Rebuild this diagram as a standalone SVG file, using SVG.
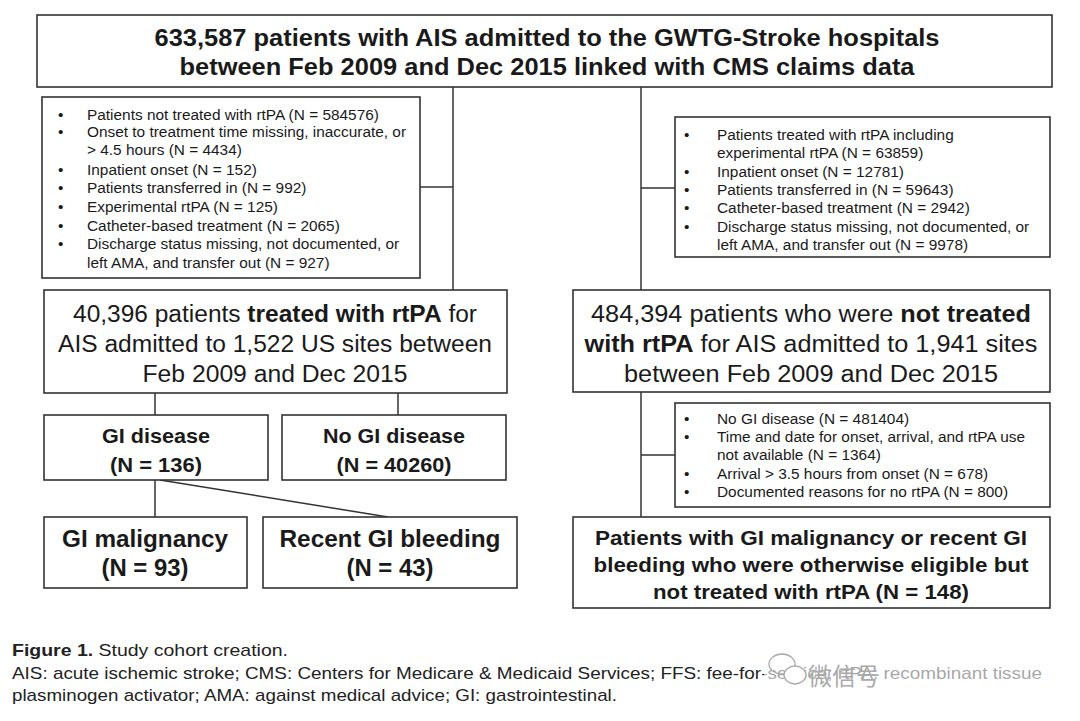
<svg xmlns="http://www.w3.org/2000/svg" width="1080" height="721" viewBox="0 0 1080 721">
<style>
.box{fill:#fff;stroke:#333;stroke-width:1.6}
.ln{fill:none;stroke:#333;stroke-width:1.5}
.t{font-family:"Liberation Sans",Arial,sans-serif;fill:#1a1a1a}
.b{font-weight:bold}
.title{font-family:"Liberation Sans Narrow","Liberation Sans",Arial,sans-serif;font-weight:bold;font-size:23px;fill:#1a1a1a}
.sm{font-size:15.4px}
.mid{font-size:23px}
.cap{font-family:"Liberation Sans Narrow","Liberation Sans",Arial,sans-serif;font-size:17px;fill:#222}
</style>
<rect width="1080" height="721" fill="#fff"/>
<g id="connectors">
<line class="ln" x1="453" y1="87" x2="453" y2="290"/>
<line class="ln" x1="420" y1="187" x2="453" y2="187"/>
<line class="ln" x1="641" y1="87" x2="641" y2="290"/>
<line class="ln" x1="641" y1="188" x2="675" y2="188"/>
<line class="ln" x1="155" y1="393" x2="155" y2="415"/>
<line class="ln" x1="398" y1="393" x2="398" y2="415"/>
<line class="ln" x1="155" y1="480" x2="155" y2="517"/>
<line class="ln" x1="160" y1="480" x2="388" y2="517"/>
<line class="ln" x1="641" y1="392" x2="641" y2="517"/>
<line class="ln" x1="641" y1="455" x2="675" y2="455"/>
</g>
<g id="n-top">
<rect class="box" x="37" y="15" width="1015" height="72"/>
<text class="title" x="547" y="46" text-anchor="middle" textLength="785" lengthAdjust="spacingAndGlyphs">633,587 patients with AIS admitted to the GWTG-Stroke hospitals</text>
<text class="title" x="547" y="75" text-anchor="middle" textLength="735" lengthAdjust="spacingAndGlyphs">between Feb 2009 and Dec 2015 linked with CMS claims data</text>
</g>
<g id="n-excl-left" class="t sm">
<rect class="box" x="42" y="97" width="378" height="181"/>
<text x="58" y="120">•</text><text x="87" y="120">Patients not treated with rtPA (N = 584576)</text>
<text x="58" y="137">•</text><text x="87" y="137">Onset to treatment time missing, inaccurate, or</text>
<text x="87" y="155">&gt; 4.5 hours (N = 4434)</text>
<text x="58" y="175">•</text><text x="87" y="175">Inpatient onset (N = 152)</text>
<text x="58" y="193">•</text><text x="87" y="193">Patients transferred in (N = 992)</text>
<text x="58" y="212">•</text><text x="87" y="212">Experimental rtPA (N = 125)</text>
<text x="58" y="231">•</text><text x="87" y="231">Catheter-based treatment (N = 2065)</text>
<text x="58" y="249">•</text><text x="87" y="249">Discharge status missing, not documented, or</text>
<text x="87" y="268">left AMA, and transfer out (N = 927)</text>
</g>
<g id="n-excl-right" class="t sm">
<rect class="box" x="675" y="117" width="375" height="140"/>
<text x="684" y="140">•</text><text x="717" y="140">Patients treated with rtPA including</text>
<text x="717" y="158">experimental rtPA (N = 63859)</text>
<text x="684" y="177">•</text><text x="717" y="177">Inpatient onset  (N = 12781)</text>
<text x="684" y="195">•</text><text x="717" y="195">Patients transferred in (N = 59643)</text>
<text x="684" y="213">•</text><text x="717" y="213">Catheter-based treatment (N = 2942)</text>
<text x="684" y="232">•</text><text x="717" y="232">Discharge status missing, not documented, or</text>
<text x="717" y="250">left AMA, and transfer out (N = 9978)</text>
</g>
<g id="n-treated" class="t mid">
<rect class="box" x="44" y="290" width="463" height="103"/>
<text x="275" y="322" text-anchor="middle" textLength="404" lengthAdjust="spacingAndGlyphs">40,396 patients <tspan class="b">treated with rtPA</tspan> for</text>
<text x="275" y="352" text-anchor="middle" textLength="434" lengthAdjust="spacingAndGlyphs">AIS admitted to 1,522 US sites between</text>
<text x="275" y="382" text-anchor="middle" textLength="265" lengthAdjust="spacingAndGlyphs">Feb 2009 and Dec 2015</text>
</g>
<g id="n-nottreated" class="t mid">
<rect class="box" x="573" y="290" width="477" height="102"/>
<text x="811" y="322" text-anchor="middle" textLength="440" lengthAdjust="spacingAndGlyphs">484,394 patients who were <tspan class="b">not treated</tspan></text>
<text x="811" y="352" text-anchor="middle" textLength="453" lengthAdjust="spacingAndGlyphs"><tspan class="b">with rtPA</tspan> for AIS admitted to 1,941 sites</text>
<text x="811" y="382" text-anchor="middle" textLength="374" lengthAdjust="spacingAndGlyphs">between Feb 2009 and Dec 2015</text>
</g>
<g id="n-gi" class="t b" font-size="21">
<rect class="box" x="44" y="415" width="224" height="65"/>
<text x="156" y="443" text-anchor="middle" textLength="108" lengthAdjust="spacingAndGlyphs">GI disease</text>
<text x="156" y="472" text-anchor="middle" textLength="92" lengthAdjust="spacingAndGlyphs">(N = 136)</text>
</g>
<g id="n-nogi" class="t b" font-size="21">
<rect class="box" x="282" y="415" width="224" height="65"/>
<text x="394" y="443" text-anchor="middle" textLength="142" lengthAdjust="spacingAndGlyphs">No GI disease</text>
<text x="394" y="472" text-anchor="middle" textLength="115" lengthAdjust="spacingAndGlyphs">(N = 40260)</text>
</g>
<g id="n-excl-gi" class="t sm">
<rect class="box" x="675" y="403" width="375" height="104"/>
<text x="684" y="424">•</text><text x="717" y="424">No GI disease (N = 481404)</text>
<text x="684" y="442">•</text><text x="717" y="442">Time and date for onset, arrival, and rtPA use</text>
<text x="717" y="460">not available (N = 1364)</text>
<text x="684" y="479">•</text><text x="717" y="479">Arrival &gt; 3.5 hours from onset (N = 678)</text>
<text x="684" y="497">•</text><text x="717" y="497">Documented reasons for no rtPA (N = 800)</text>
</g>
<g id="n-malig" class="t b" font-size="24">
<rect class="box" x="44" y="517" width="203" height="71"/>
<text x="145" y="547" text-anchor="middle" textLength="166" lengthAdjust="spacingAndGlyphs">GI malignancy</text>
<text x="145" y="576" text-anchor="middle" textLength="87" lengthAdjust="spacingAndGlyphs">(N = 93)</text>
</g>
<g id="n-bleed" class="t b" font-size="24">
<rect class="box" x="263" y="517" width="254" height="71"/>
<text x="390" y="547" text-anchor="middle" textLength="221" lengthAdjust="spacingAndGlyphs">Recent GI bleeding</text>
<text x="390" y="576" text-anchor="middle" textLength="87" lengthAdjust="spacingAndGlyphs">(N = 43)</text>
</g>
<g id="n-final" class="t b" font-size="21">
<rect class="box" x="573" y="517" width="477" height="91"/>
<text x="811" y="545" text-anchor="middle" textLength="432" lengthAdjust="spacingAndGlyphs">Patients with GI malignancy or recent GI</text>
<text x="811" y="572" text-anchor="middle" textLength="435" lengthAdjust="spacingAndGlyphs">bleeding who were otherwise eligible but</text>
<text x="811" y="599" text-anchor="middle" textLength="316" lengthAdjust="spacingAndGlyphs">not treated with rtPA (N = 148)</text>
</g>
<g id="caption" class="cap">
<text x="12" y="656" textLength="276" lengthAdjust="spacingAndGlyphs"><tspan font-weight="bold">Figure 1.</tspan> Study cohort creation.</text>
<text x="12" y="679" textLength="1030" lengthAdjust="spacingAndGlyphs">AIS:  acute ischemic stroke; CMS:  Centers for Medicare &amp; Medicaid Services; FFS:  fee-for-service; rtPA:  recombinant tissue</text>
<text x="12" y="701" textLength="605" lengthAdjust="spacingAndGlyphs">plasminogen activator; AMA:  against medical advice; GI:  gastrointestinal.</text>
</g>
<g id="watermark">
<rect x="764" y="650" width="290" height="38" fill="#fff" opacity="0.6"/>
<ellipse cx="782" cy="664" rx="13" ry="10" fill="none" stroke="#aaa" stroke-width="1.3"/>
<ellipse cx="795" cy="675" rx="11" ry="9" fill="#fff" stroke="#aaa" stroke-width="1.3"/>
<text x="808" y="685" font-family="Noto Sans CJK SC,sans-serif" font-size="24" fill="#aaa">微信号</text>
</g>
</svg>
